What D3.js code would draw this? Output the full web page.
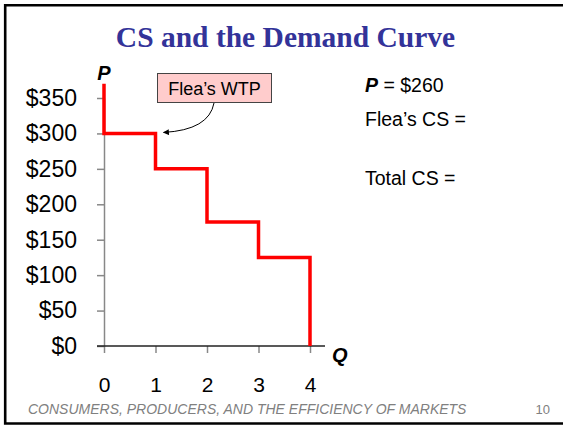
<!DOCTYPE html>
<html>
<head>
<meta charset="utf-8">
<script src="https://cdn.jsdelivr.net/npm/d3@7"></script>
<style>
  body { margin: 0; background: #fff; }
  svg { display: block; font-family: Arial, "Liberation Sans", sans-serif; }
</style>
</head>
<body>
<svg id="chart" width="563" height="426"></svg>
<script>
// Demand schedule: one buyer per unit, highest WTP first
const quantities = [0, 1, 2, 3, 4];
const buyers = ["Flea", "Anthony", "Chad", "John"];
const wtp = [300, 250, 175, 125];
const curveTop = 370; // where the curve is drawn from, above Flea's WTP
const priceTicks = [0, 50, 100, 150, 200, 250, 300, 350];
const sideNotes = ["= $260", "Flea\u2019s CS =", "Total CS ="];

const svg = d3.select("#chart");

// Slide frame
svg.append("path")
    .attr("d", "M566,5.2 H5.2 V423.5 H566")
    .attr("fill", "none")
    .attr("stroke", "#000")
    .attr("stroke-width", 2.6);

// Title
svg.append("text")
    .attr("x", 285.5)
    .attr("y", 47)
    .attr("text-anchor", "middle")
    .style("font-family", "'Liberation Serif', 'Times New Roman', serif")
    .style("font-weight", "bold")
    .style("font-size", "29.5px")
    .attr("fill", "#333399")
    .text("CS and the Demand Curve");

// Scales
const x = d3.scaleLinear().domain([0, 4]).range([104, 310]);
const y = d3.scaleLinear().domain([0, 350]).range([346, 98]);

// Y axis
const yAxis = svg.append("g")
    .attr("transform", "translate(" + x(0) + ",0)")
    .call(d3.axisLeft(y).tickValues(priceTicks).tickSize(7).tickSizeOuter(0)
        .tickPadding(20).tickFormat(d => "$" + d));
yAxis.select(".domain").attr("stroke", "#888").attr("stroke-width", 1.5);
yAxis.selectAll(".tick line").attr("stroke", "#888").attr("stroke-width", 1.5);
yAxis.selectAll(".tick text")
    .style("font-size", "23px")
    .style("font-family", "Arial, 'Liberation Sans', sans-serif")
    .attr("fill", "#000");

// X axis
const xAxis = svg.append("g")
    .attr("transform", "translate(0," + y(0) + ")")
    .call(d3.axisBottom(x).tickValues(quantities).tickSize(7).tickPadding(24)
        .tickFormat(d3.format("d")));
xAxis.select(".domain").remove();
xAxis.selectAll(".tick line").attr("stroke", "#888").attr("stroke-width", 1.5);
xAxis.selectAll(".tick text")
    .style("font-size", "21px")
    .style("font-family", "Arial, 'Liberation Sans', sans-serif")
    .attr("fill", "#000");
xAxis.append("line")
    .attr("x1", x(0) - 7)
    .attr("x2", 325)
    .attr("stroke", "#222")
    .attr("stroke-width", 1.3);

// Axis letters
svg.append("text")
    .attr("x", x(0))
    .attr("y", 80)
    .attr("text-anchor", "middle")
    .style("font-size", "20px")
    .style("font-weight", "bold")
    .style("font-style", "italic")
    .text("P");
svg.append("text")
    .attr("x", 332)
    .attr("y", 362)
    .style("font-size", "20px")
    .style("font-weight", "bold")
    .style("font-style", "italic")
    .text("Q");

// Stepped demand curve
const steps = [[0, curveTop]];
wtp.forEach((p, i) => {
    steps.push([quantities[i], p]);
    steps.push([quantities[i + 1], p]);
});
steps.push([quantities[quantities.length - 1], 0]);

svg.append("path")
    .datum(steps)
    .attr("d", d3.line().x(d => x(d[0])).y(d => y(d[1])))
    .attr("fill", "none")
    .attr("stroke", "#ff0000")
    .attr("stroke-width", 3.5)
    .attr("stroke-linejoin", "miter");

// Callout for Flea's WTP
svg.append("defs").append("marker")
    .attr("id", "head")
    .attr("viewBox", "0 0 10 10")
    .attr("refX", 9)
    .attr("refY", 5)
    .attr("markerWidth", 7)
    .attr("markerHeight", 6)
    .attr("orient", "auto")
    .append("path")
    .attr("d", "M0,0 L10,5 L0,10 Z")
    .attr("fill", "#000");

svg.append("path")
    .attr("d", "M214,103 Q209,130 " + (x(1) + 8) + "," + (y(wtp[0]) - 1))
    .attr("fill", "none")
    .attr("stroke", "#000")
    .attr("stroke-width", 1)
    .attr("marker-end", "url(#head)");

svg.append("rect")
    .attr("x", 157.5)
    .attr("y", 73.5)
    .attr("width", 114)
    .attr("height", 29)
    .attr("fill", "#ffcccc")
    .attr("stroke", "#444")
    .attr("stroke-width", 1);
svg.append("text")
    .attr("x", 214.5)
    .attr("y", 95)
    .attr("text-anchor", "middle")
    .style("font-size", "18px")
    .text(buyers[0] + "\u2019s WTP");

// Notes on the right
const note = svg.append("text")
    .attr("x", 365)
    .attr("y", 92)
    .style("font-size", "19.5px");
note.append("tspan")
    .style("font-weight", "bold")
    .style("font-style", "italic")
    .text("P");
note.append("tspan").text(" " + sideNotes[0]);

svg.append("text")
    .attr("x", 365)
    .attr("y", 126)
    .style("font-size", "19.5px")
    .text(sideNotes[1]);
svg.append("text")
    .attr("x", 365)
    .attr("y", 185)
    .style("font-size", "19.5px")
    .text(sideNotes[2]);

// Footer
svg.append("text")
    .attr("x", 28)
    .attr("y", 414)
    .style("font-size", "14px")
    .style("font-style", "italic")
    .attr("fill", "#808080")
    .text("CONSUMERS, PRODUCERS, AND THE EFFICIENCY OF MARKETS");
svg.append("text")
    .attr("x", 550)
    .attr("y", 414)
    .attr("text-anchor", "end")
    .style("font-size", "13px")
    .attr("fill", "#808080")
    .text("10");
</script>
</body>
</html>
